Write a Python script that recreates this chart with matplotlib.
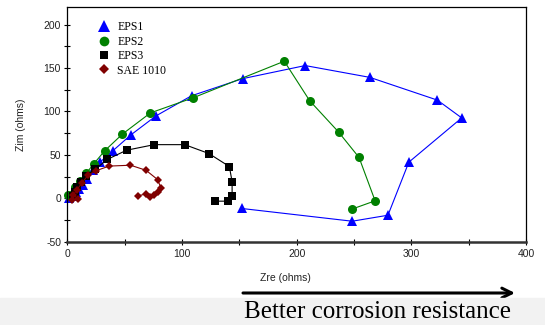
import matplotlib.pyplot as plt
from matplotlib.lines import Line2D
from matplotlib.patches import Rectangle
from matplotlib.ticker import MultipleLocator

plt.rcParams["axes.unicode_minus"] = False

# Nyquist data (Zre, Zim in ohms)
eps1_zre = [1.2, 4.2, 7.3, 10.3, 13.3, 17.3, 22.4, 28.5, 39.5, 55.2, 77.3, 108.3,
            152.8, 207.4, 263.8, 322.7, 343.9, 297.8, 279.6, 248.4, 151.9]
eps1_zim = [0.0, 2.9, 6.8, 10.7, 15.3, 22.3, 33.1, 41.6, 54.5, 72.8, 94.9, 118.1,
            137.8, 152.9, 139.3, 113.1, 92.6, 41.6, -19.5, -26.4, -11.7]

eps2_zre = [0.3, 6.7, 10.8, 16.6, 22.9, 32.5, 48.0, 72.5, 109.8, 189.2, 211.4,
            236.5, 254.4, 268.4, 248.1]
eps2_zim = [3.5, 13.5, 19.8, 29.0, 39.4, 54.6, 73.9, 98.4, 115.8, 157.9, 112.3,
            76.4, 47.0, -2.9, -12.5]

eps3_zre = [4.9, 6.7, 8.8, 11.8, 16.4, 24.5, 34.9, 51.7, 75.8, 102.4, 123.4,
            141.3, 143.7, 143.7, 139.8, 128.6]
eps3_zim = [3.0, 7.6, 12.6, 18.4, 26.1, 33.5, 44.8, 55.4, 61.8, 61.8, 51.6,
            36.6, 19.2, 2.9, -3.3, -3.3]

sae_zre = [3.8, 9.6, 5.2, 8.2, 12.6, 18.3, 25.0, 36.4, 55.1, 68.6, 78.8, 81.7,
           79.4, 75.9, 72.1, 68.4, 61.4]
sae_zim = [-1.9, -0.7, 3.9, 9.6, 17.4, 27.0, 31.7, 37.1, 38.1, 32.3, 21.5, 11.6,
           7.7, 3.9, 1.9, 5.0, 2.7]

series = [
    ("EPS1", eps1_zre, eps1_zim, "#0000ff", "^", 7.5),
    ("EPS2", eps2_zre, eps2_zim, "#008000", "o", 6.5),
    ("EPS3", eps3_zre, eps3_zim, "#000000", "s", 5.8),
    ("SAE 1010", sae_zre, sae_zim, "#800000", "D", 4.3),
]

fig = plt.figure(figsize=(5.45, 3.25), dpi=100)
# light grey band at the bottom of the slide
fig.patches.append(Rectangle((0, 0), 1, 27 / 325, transform=fig.transFigure,
                             color="#f2f2f2", zorder=0))

ax = fig.add_axes([0.1235, 0.2563, 0.8417, 0.7212])
handles = []
for label, xs, ys, color, marker, ms in series:
    ax.plot(xs, ys, color=color, lw=0.8, marker=marker, markersize=ms,
            markeredgewidth=0, clip_on=False)
    handles.append(Line2D([], [], ls="none", marker=marker, color=color,
                          markersize=ms + 0.5, markeredgewidth=0, label=label))

ax.set_xlim(0, 400)
ax.set_ylim(-50, 220)
ax.xaxis.set_major_locator(MultipleLocator(100))
ax.xaxis.set_minor_locator(MultipleLocator(50))
ax.yaxis.set_major_locator(MultipleLocator(50))
ax.yaxis.set_minor_locator(MultipleLocator(25))
ax.tick_params(which="both", direction="inout", length=5, width=0.8,
               labelsize=7.5, labelcolor="#222222", pad=3)
ax.tick_params(axis="y", pad=2)
for s in ["top", "right", "left"]:
    ax.spines[s].set_linewidth(0.9)
ax.spines["bottom"].set_linewidth(1.8)
ax.spines["bottom"].set_color("#333333")

for t in ax.get_xticklabels() + ax.get_yticklabels():
    t.set_fontfamily("Liberation Sans")

ax.set_xlabel("Zre (ohms)", fontsize=7.5, family="Liberation Sans",
              color="#222222")
ax.xaxis.set_label_coords(0.475, -0.135)
ax.set_ylabel("Zim (ohms)", fontsize=7.5, family="Liberation Sans",
              color="#222222")
ax.yaxis.set_label_coords(-0.09, 0.5)

ax.legend(handles=handles, loc="upper left", bbox_to_anchor=(0.05, 0.975),
          frameon=False, prop={"family": "Liberation Serif", "size": 8.5},
          handlelength=1.0, handletextpad=0.6, labelspacing=0.2, borderpad=0.2)

# arrow + caption below the axes
ax.annotate("", xy=(515 / 545, 1 - 293 / 325), xytext=(243 / 545, 1 - 293 / 325),
            xycoords="figure fraction", textcoords="figure fraction",
            arrowprops=dict(arrowstyle="->,head_length=0.7,head_width=0.35",
                            lw=2.2, color="black", shrinkA=0, shrinkB=0))
fig.text(244 / 545, 1 - 318 / 325, "Better corrosion resistance",
         fontsize=18, family="Liberation Serif", ha="left", va="baseline")

fig.savefig("out.png", dpi=100)
